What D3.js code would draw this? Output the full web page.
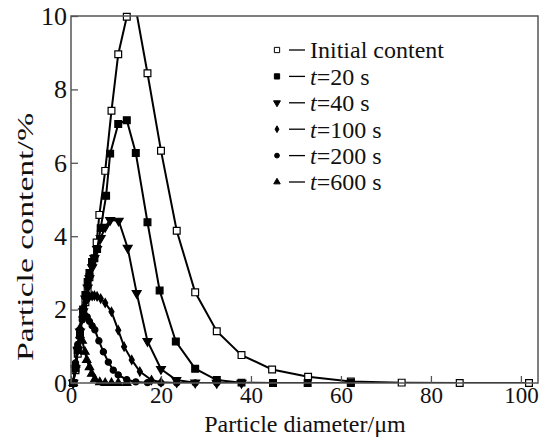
<!DOCTYPE html>
<html>
<head>
<meta charset="utf-8">
<script src="https://cdn.jsdelivr.net/npm/d3@7"></script>
<style>
  body { margin: 0; background: #fff; }
  text { font-family: "Liberation Serif", "Times New Roman", serif; fill: #111; }
</style>
</head>
<body>
<svg id="chart" width="542" height="437"></svg>
<script>
// particle diameter (um) / particle content (%)
var initX = [0.5, 1.0, 1.5, 2.0, 2.7, 3.2, 3.7, 4.1, 4.7, 5.7, 6.3, 7.6, 9.0, 10.5, 12.4, 14.4, 17.0, 20.0, 23.5, 27.6, 32.4, 37.9, 44.7, 52.7, 62.2, 73.5, 86.4, 101.8];
var initY = [0, 0.35, 0.8, 1.3, 1.92, 2.2, 2.51, 2.88, 3.3, 3.83, 4.58, 5.78, 7.42, 8.96, 9.98, 10.2, 8.44, 6.33, 4.15, 2.47, 1.41, 0.76, 0.37, 0.17, 0.04, 0.01, 0, 0];

var t20X = [0.5, 1.0, 1.5, 2.0, 2.7, 3.2, 3.7, 4.1, 4.7, 5.2, 5.8, 6.6, 7.8, 8.7, 10.5, 12.4, 14.4, 17.0, 19.7, 23.3, 27.6, 32.4, 37.9, 44.9, 52.6, 62.2];
var t20Y = [0, 0.4, 0.9, 1.4, 2.0, 2.4, 2.75, 3.0, 3.3, 3.4, 3.65, 4.22, 5.1, 6.25, 7.06, 7.16, 6.27, 4.38, 2.52, 1.13, 0.39, 0.08, 0.01, 0, 0, 0];

var t40X = [0.5, 1.0, 1.5, 2.0, 2.7, 3.2, 3.7, 4.1, 4.7, 5.2, 5.8, 6.6, 7.6, 8.7, 10.6, 12.6, 14.6, 17.0, 20.0, 23.4, 27.6, 32.4, 37.9];
var t40Y = [0, 0.4, 0.9, 1.4, 1.95, 2.3, 2.6, 2.85, 3.15, 3.4, 3.65, 3.95, 4.25, 4.44, 4.42, 3.68, 2.45, 1.14, 0.38, 0.08, 0.01, 0, 0];

var t100X = [0.5, 1.0, 1.5, 2.0, 2.3, 2.7, 3.2, 3.7, 4.1, 4.7, 5.2, 5.8, 6.6, 7.6, 9.0, 10.5, 11.8, 13.5, 15.3, 17.9, 20.0, 23.5];
var t100Y = [0, 0.5, 1.0, 1.5, 1.8, 2.05, 2.2, 2.3, 2.35, 2.37, 2.38, 2.36, 2.3, 2.18, 1.94, 1.44, 0.99, 0.63, 0.31, 0.08, 0.02, 0];

var t200X = [0.5, 1.0, 1.5, 2.0, 2.5, 3.1, 3.6, 4.1, 4.7, 5.3, 6.2, 7.2, 8.3, 9.4, 10.5, 12.4, 14.4, 17.0, 20.0, 23.5, 27.6, 32.4, 37.9];
var t200Y = [0, 0.55, 1.05, 1.45, 1.72, 1.84, 1.8, 1.68, 1.56, 1.45, 1.15, 0.85, 0.57, 0.35, 0.22, 0.09, 0.03, 0.01, 0, 0, 0, 0, 0];

var t600X = [0.5, 1.0, 1.5, 2.0, 2.5, 3.1, 3.5, 4.1, 4.6, 5.3, 6.4, 7.6, 9.0, 10.5, 12.4];
var t600Y = [0, 0.5, 1.0, 1.3, 1.15, 0.85, 0.63, 0.43, 0.25, 0.1, 0.02, 0, 0, 0, 0];

var labels = ["Initial content", "20", "40", "100", "200", "600"];
var xTicks = [0, 20, 40, 60, 80, 100];
var yTicks = [0, 2, 4, 6, 8, 10];

var svg = d3.select("#chart");

var margin = { top: 16, right: 4, bottom: 54, left: 71 },
    width = 542 - margin.left - margin.right,
    height = 437 - margin.top - margin.bottom;

var x = d3.scaleLinear().domain([0, 103.8]).range([0, width]);
var y = d3.scaleLinear().domain([0, 10]).range([height, 0]);

var g = svg.append("g").attr("transform", "translate(" + margin.left + "," + margin.top + ")");

g.append("clipPath").attr("id", "plotclip")
  .append("rect").attr("width", width).attr("height", height);

var series = [
  { xs: initX, ys: initY, shape: d3.symbolSquare, size: 46, rot: 0, fill: "#fff" },
  { xs: t20X, ys: t20Y, shape: d3.symbolSquare, size: 46, rot: 0, fill: "#000" },
  { xs: t40X, ys: t40Y, shape: d3.symbolTriangle, size: 34, rot: 180, fill: "#000" },
  { xs: t100X, ys: t100Y, shape: d3.symbolDiamond, size: 22, rot: 0, fill: "#000" },
  { xs: t200X, ys: t200Y, shape: d3.symbolCircle, size: 30, rot: 0, fill: "#000" },
  { xs: t600X, ys: t600Y, shape: d3.symbolTriangle, size: 30, rot: 0, fill: "#000" }
];

var line = d3.line()
  .x(function (d) { return x(d[0]); })
  .y(function (d) { return y(d[1]); });

series.forEach(function (s) {
  var pts = d3.zip(s.xs, s.ys);
  g.append("path")
    .attr("clip-path", "url(#plotclip)")
    .attr("d", line(pts))
    .attr("fill", "none")
    .attr("stroke", "#000")
    .attr("stroke-width", 2);

  g.selectAll(null)
    .data(pts.filter(function (d) { return d[1] <= 10; }))
    .enter().append("path")
    .attr("d", d3.symbol().type(s.shape).size(s.size))
    .attr("transform", function (d) {
      return "translate(" + x(d[0]) + "," + y(d[1]) + ") rotate(" + s.rot + ")";
    })
    .attr("fill", s.fill)
    .attr("stroke", "#000")
    .attr("stroke-width", 1.2);
});

// frame
g.append("rect")
  .attr("width", width).attr("height", height)
  .attr("fill", "none").attr("stroke", "#555").attr("stroke-width", 1.5);

// inward ticks
var xAxis = g.append("g").attr("transform", "translate(0," + height + ")")
  .call(d3.axisBottom(x).tickValues(xTicks).tickSize(-7).tickPadding(6));
var yAxis = g.append("g")
  .call(d3.axisLeft(y).tickValues(yTicks).tickSize(-7).tickPadding(4));

[xAxis, yAxis].forEach(function (a) {
  a.select(".domain").remove();
  a.selectAll("line").attr("stroke", "#555").attr("stroke-width", 1.3);
  a.selectAll("text").attr("fill", "#111").attr("font-family", "Liberation Serif, serif");
});
xAxis.selectAll("text").attr("font-size", 23).attr("dy", "0.62em");
yAxis.selectAll("text").attr("font-size", 26);

// axis titles
svg.append("text")
  .attr("x", margin.left + x(52)).attr("y", 432)
  .attr("text-anchor", "middle").attr("font-size", 24)
  .text("Particle diameter/\u03bcm");

svg.append("text")
  .attr("transform", "translate(33,237) rotate(-90)")
  .attr("text-anchor", "middle").attr("font-size", 24)
  .attr("textLength", 248).attr("lengthAdjust", "spacingAndGlyphs")
  .text("Particle content/%");

// legend
var legend = svg.append("g").attr("transform", "translate(277,50)");
series.forEach(function (s, i) {
  var row = legend.append("g").attr("transform", "translate(0," + (i * 26.4) + ")");
  row.append("path")
    .attr("d", d3.symbol().type(s.shape).size(s.size * 0.6))
    .attr("transform", "rotate(" + s.rot + ")")
    .attr("fill", s.fill).attr("stroke", "#000").attr("stroke-width", 1);
  row.append("line")
    .attr("x1", 12).attr("x2", 28).attr("y1", 0).attr("y2", 0)
    .attr("stroke", "#000").attr("stroke-width", 1.3);
  var t = row.append("text").attr("x", 33).attr("y", 0).attr("dy", "0.35em").attr("font-size", 24);
  if (i === 0) {
    t.text(labels[i]);
  } else {
    t.append("tspan").attr("font-style", "italic").text("t");
    t.append("tspan").text("=" + labels[i] + " s");
  }
});
</script>
</body>
</html>
